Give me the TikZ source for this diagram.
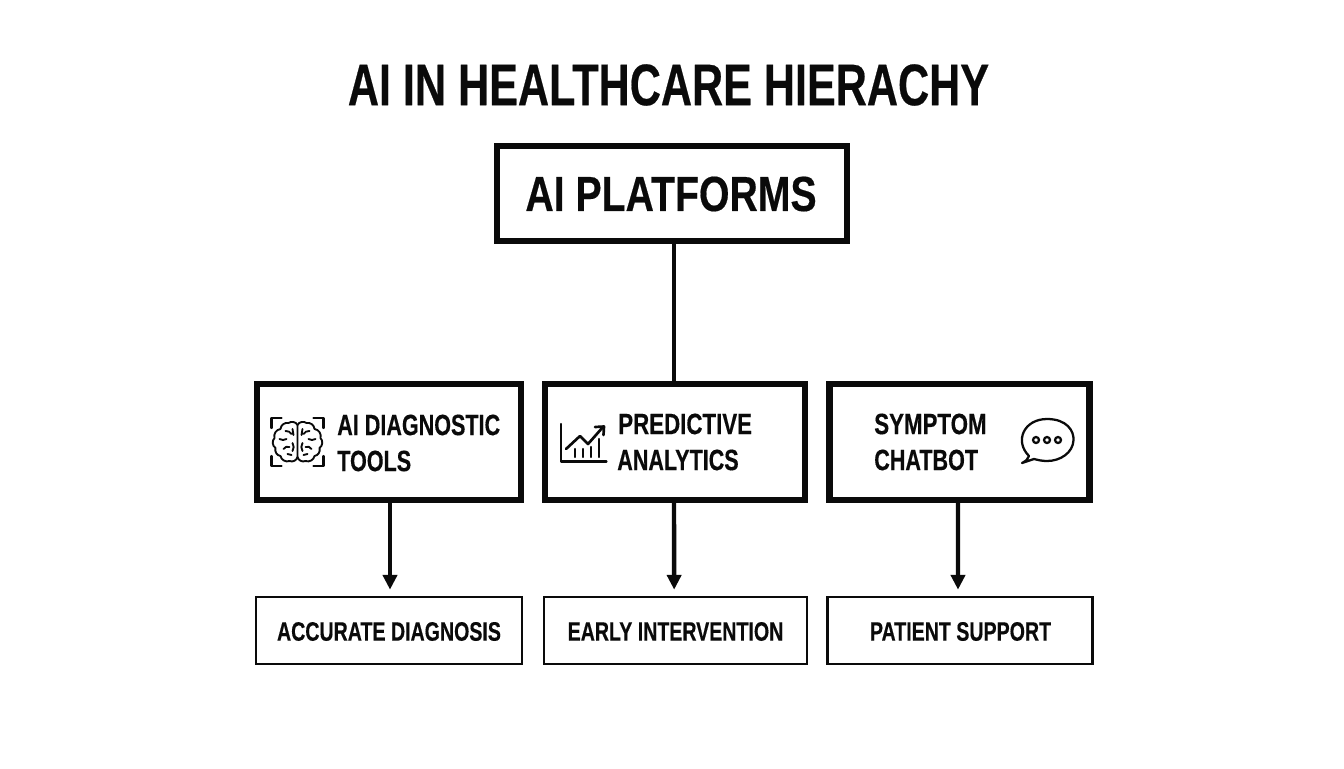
\documentclass[tikz,border=0pt]{standalone}
\usepackage{fontspec}
\setmainfont{Liberation Sans}
\newfontfamily\narrowfont[FakeStretch=0.735,FakeBold=0.35]{Liberation Sans}
\newfontfamily\midwidefont[FakeStretch=0.76,FakeBold=0.35]{Liberation Sans}
\newfontfamily\wideshapefont[FakeStretch=0.795,FakeBold=0.35]{Liberation Sans}
\usetikzlibrary{arrows.meta}
\definecolor{ink}{HTML}{0A0A0A}
\tikzset{
  px/.style={x=0.75pt,y=-0.75pt},
  lbl/.style={inner sep=0pt,text=ink},
  titletxt/.style={lbl,font=\narrowfont\bfseries\fontsize{44}{48}\selectfont},
  toptxt/.style={lbl,font=\wideshapefont\bfseries\fontsize{37}{40}\selectfont},
  midtxt/.style={lbl,anchor=west,font=\narrowfont\bfseries\fontsize{22}{24}\selectfont},
  midtxtwide/.style={lbl,anchor=west,font=\midwidefont\bfseries\fontsize{22}{24}\selectfont},
  lowtxt/.style={lbl,font=\narrowfont\bfseries\fontsize{20}{24}\selectfont},
  heavybox/.style={draw=ink,line width=4.6pt,minimum width=195pt,minimum height=87pt,inner sep=0pt},
  topbox/.style={draw=ink,line width=4.6pt,minimum width=262.5pt,minimum height=71.25pt,inner sep=0pt},
  lowbox/.style={draw=ink,line width=1.8pt,minimum height=50.5pt,inner sep=0pt},
  link/.style={draw=ink,line width=3.3pt},
  arrowlink/.style={link,-{Triangle[length=11pt,width=10.5pt]},shorten >=4.5pt},
  icon/.style={draw=ink,line width=1.7pt,line cap=round,line join=round},
  thinicon/.style={draw=ink,line width=1.4pt,line cap=round,line join=round}
}
\begin{document}
\begin{tikzpicture}[px]
\useasboundingbox (0,0) rectangle (1344,768);
\fill[white] (0,0) rectangle (1344,768);

\node[titletxt] (title) at (668.5,85) {AI IN HEALTHCARE HIERACHY};

\node[topbox] (top) at (672,193.5) {};
\node[toptxt] (toplabel) at (671,194) {AI PLATFORMS};

\node[heavybox,minimum width=198pt] (m1) at (389,442) {};
\node[heavybox] (m2) at (675,442) {};
\node[heavybox] (m3) at (959.5,442) {};

\node[lowbox,minimum width=199.5pt] (b1) at (389,630.5) {};
\node[lowbox,minimum width=197.5pt] (b2) at (675.5,630.5) {};
\node[lowbox,minimum width=198.5pt] (b3) at (960,630.5) {};

\coordinate (tap) at ([xshift=1.5pt]top.south);
\draw[link] (tap) -- (tap |- m2.north);

\draw[arrowlink] ([xshift=0.75pt]m1.south) -- ([xshift=0.75pt]b1.north);
\draw[arrowlink] ([xshift=-0.75pt]m2.south) -- ([xshift=-1pt]b2.north);
\draw[arrowlink] ([xshift=-1.1pt]m3.south) -- ([xshift=-1.5pt]b3.north);

\node[midtxt] (t1a) at (337,425) {AI DIAGNOSTIC};
\node[midtxt] (t1b) at (337,461) {TOOLS};
\node[midtxtwide] (t2a) at (618,424) {PREDICTIVE};
\node[midtxt] (t2b) at (617,460) {ANALYTICS};
\node[midtxtwide] (t3a) at (874,424) {SYMPTOM};
\node[midtxt] (t3b) at (874,460) {CHATBOT};

\node[lowtxt] (l1) at (389,631.5) {ACCURATE DIAGNOSIS};
\node[lowtxt] (l2) at (675.5,631.5) {EARLY INTERVENTION};
\node[lowtxt] (l3) at (960.5,631.5) {PATIENT SUPPORT};

% brain icon
\begin{scope}[shift={(297.5,442)}]
  \draw[icon] (-26,-14) |- (-16,-24) (16,-24) -| (26,-14)
              (26,14) |- (16,24) (-16,24) -| (-26,14);
  \draw[thinicon] (0,-17) to[bend right=50] (-9,-19) to[bend right=50] (-17,-13)
        to[bend right=50] (-23,-4) to[bend right=50] (-22,6) to[bend right=50] (-17,14)
        to[bend right=50] (-8,19) to[bend right=50] (0,15) -- cycle;
  \draw[thinicon] (0,-17) to[bend left=50] (9,-19) to[bend left=50] (17,-13)
        to[bend left=50] (23,-4) to[bend left=50] (22,6) to[bend left=50] (17,14)
        to[bend left=50] (8,19) to[bend left=50] (0,15);
  \draw[thinicon] (-12,-11) to[bend left=30] (-6,-8) (-5,-13) -- (-4,-7)
        (-18,-3) to[bend right=30] (-11,-3) (-14,7) to[bend left=40] (-8,5)
        (-5,1) to[bend left=30] (-5,9) (-10,12) -- (-6,13);
  \draw[thinicon] (12,-11) to[bend right=30] (6,-8) (5,-13) -- (4,-7)
        (18,-3) to[bend left=30] (11,-3) (14,7) to[bend right=40] (8,5)
        (5,1) to[bend right=30] (5,9) (10,12) -- (6,13);
\end{scope}

% chart icon
\draw[icon] (561,424) -- (561,461.5) -- (606.5,461.5);
\draw[icon,line width=2pt] (566,449) -- (580,436) -- (588,444) -- (603,427);
\draw[icon,line width=2pt] (595,427) -- (604,426.5) -- (603.5,435);
\draw[icon] (575,449) -- (575,457) (582.7,449) -- (582.7,457) (591,447) -- (591,457) (599.3,439) -- (599.3,457);

% speech bubble icon
\draw[icon] (1029,456) .. controls (1014,441) and (1024,419) .. (1047,419)
   .. controls (1067,419) and (1074,431) .. (1073.5,440)
   .. controls (1073,453) and (1060,461) .. (1047,461)
   .. controls (1042,461) and (1038,460) .. (1034,459)
   -- (1022,463) .. controls (1026,461) and (1028,459) .. (1029,456) -- cycle;
\draw[icon] (1036,440) circle[radius=3] (1047,440) circle[radius=3] (1058,440) circle[radius=3];
\end{tikzpicture}
\end{document}
